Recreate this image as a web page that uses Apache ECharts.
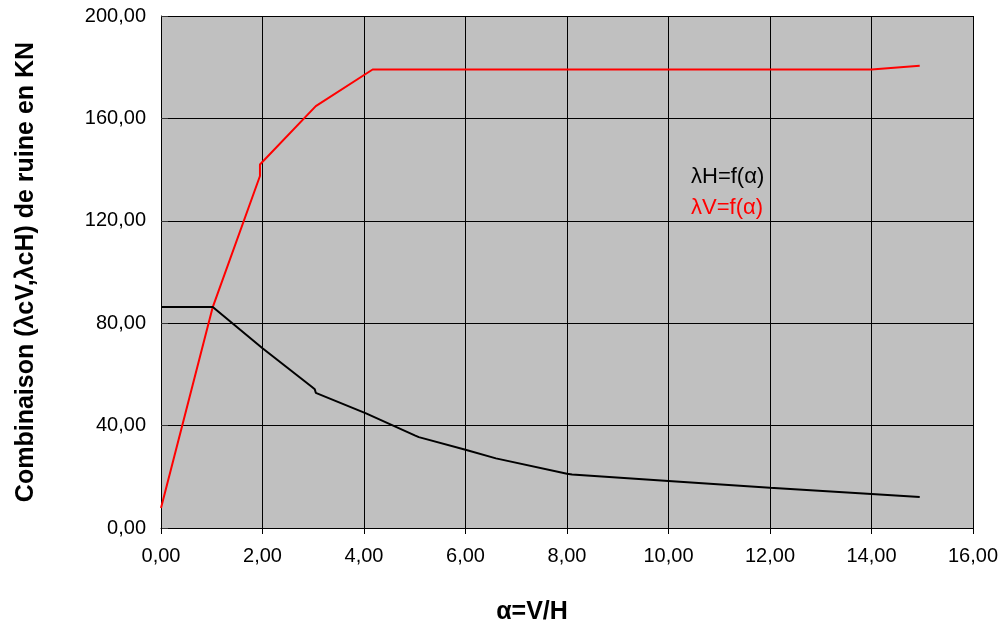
<!DOCTYPE html>
<html>
<head>
<meta charset="utf-8">
<script src="https://cdn.jsdelivr.net/npm/echarts@6/dist/echarts.min.js"></script>
<style>
  html, body { margin: 0; padding: 0; background: #fff; }
  #chart { width: 1003px; height: 630px; }
</style>
</head>
<body>
<div id="chart"></div>
<script>
// Horizontal collapse load λH as a function of α = V/H
const alphaH  = [0, 1.02, 2.0, 2.97, 3.03, 3.05, 4.04, 5.0, 5.08, 6.0, 6.6, 8.0, 8.1, 10.0, 12.0, 14.0, 14.95];
const lambdaH = [86.3, 86.3, 70.2, 55.2, 54.2, 52.8, 44.8, 36.2, 35.5, 30.6, 27.2, 21.2, 20.9, 18.4, 15.7, 13.3, 12.1];

// Vertical collapse load λV as a function of α = V/H
const alphaV  = [0, 1.02, 1.95, 1.95, 3.05, 4.17, 14.0, 14.95];
const lambdaV = [7.8, 86.3, 137.5, 142.0, 164.8, 179.1, 179.1, 180.6];

const nameH = 'λH=f(α)';
const nameV = 'λV=f(α)';
const xTitle = 'α=V/H';
const yTitle = 'Combinaison (λcV,λcH) de ruine en KN';

const pairs = (xs, ys) => xs.map((x, i) => [x, ys[i]]);
const fmt = v => v.toFixed(2).replace('.', ',');
const FONT = '"Liberation Sans", Arial, sans-serif';

const chart = echarts.init(document.getElementById('chart'), null, { renderer: 'canvas' });
chart.setOption({
  animation: false,
  backgroundColor: '#ffffff',
  textStyle: { fontFamily: FONT },
  grid: {
    left: 161, right: 30, top: 16, bottom: 102,
    outerBoundsMode: 'none',
    containLabel: false,
    show: true, backgroundColor: '#c0c0c0', borderWidth: 0
  },
  legend: {
    orient: 'vertical',
    left: 686, top: 166,
    padding: 0,
    icon: 'none',
    itemWidth: 0, itemHeight: 22, itemGap: 9,
    selectedMode: false,
    textStyle: { fontSize: 22, fontFamily: FONT },
    data: [
      { name: nameH, textStyle: { color: '#000000' } },
      { name: nameV, textStyle: { color: '#ff0000' } }
    ]
  },
  xAxis: {
    type: 'value',
    min: 0, max: 16, interval: 2,
    name: xTitle,
    nameLocation: 'middle',
    nameGap: 72,
    nameTextStyle: {
      fontSize: 25, fontWeight: 'bold', color: '#000', fontFamily: FONT,
      padding: [0, 70, 0, 0]
    },
    axisLine: { show: true, onZero: false, lineStyle: { color: '#000', width: 1 } },
    axisTick: { show: true, inside: false, length: 6, lineStyle: { color: '#000' } },
    axisLabel: { formatter: fmt, fontSize: 20, color: '#000', margin: 18, fontFamily: FONT },
    splitLine: { show: true, lineStyle: { color: '#000', width: 1 } }
  },
  yAxis: {
    type: 'value',
    min: 0, max: 200, interval: 40,
    name: yTitle,
    nameLocation: 'middle',
    nameGap: 122,
    nameRotate: 90,
    nameTextStyle: { fontSize: 25, fontWeight: 'bold', color: '#000', fontFamily: FONT },
    axisLine: { show: true, lineStyle: { color: '#000', width: 1 } },
    axisTick: { show: true, inside: true, length: 7, lineStyle: { color: '#333' } },
    axisLabel: { formatter: fmt, fontSize: 20, color: '#000', margin: 15, fontFamily: FONT },
    splitLine: { show: true, lineStyle: { color: '#000', width: 1 } }
  },
  series: [
    {
      name: nameV,
      type: 'line',
      data: pairs(alphaV, lambdaV),
      showSymbol: false,
      symbol: 'none',
      lineStyle: { color: '#ff0000', width: 2 },
      itemStyle: { color: '#ff0000' },
      z: 2
    },
    {
      name: nameH,
      type: 'line',
      data: pairs(alphaH, lambdaH),
      showSymbol: false,
      symbol: 'none',
      lineStyle: { color: '#000000', width: 2 },
      itemStyle: { color: '#000000' },
      z: 3
    }
  ]
});
</script>
</body>
</html>
